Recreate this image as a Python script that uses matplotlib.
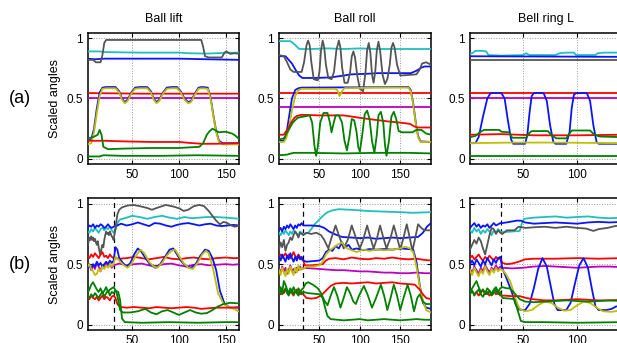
# -*- coding: utf-8 -*-

# ============================================================
#  Scaled joint angles: reference motion (a) vs. reproduction (b)
#  for three tasks (Ball lift, Ball roll, Bell ring L)
# ============================================================

import matplotlib
matplotlib.use("Agg")
import matplotlib.pyplot as plt

plt.rcParams['font.family'] = ['Liberation Sans', 'DejaVu Sans']

# ============================================================
# 1. Data  (frame, scaled angle)
# ============================================================

titles = ["Ball lift", "Ball roll", "Bell ring L"]
row_tags = ["(a)", "(b)"]
x_ranges = [(2, 165), (0, 188), (1, 141.5)]
x_ticks = [[50, 100, 150], [50, 100, 150], [50, 100]]
y_ticks = [0, 0.5, 1]
y_tick_labels = ["0", "0.5", "1"]
switch_frame = 30  # dashed line in row (b)

# ---- (a) Ball lift ----
lift_a_cyan = [(2, .89), (15, .89), (20, .885), (40, .882), (60, .88), (80, .88), (100, .88),
               (110, .875), (130, .872), (150, .878), (165, .88)]
lift_a_blue_top = [(2, .83), (10, .825), (20, .83), (60, .83), (100, .83), (130, .825), (165, .82)]
lift_a_gray = [(2, .82), (8, .82), (11, .80), (16, .80), (18, .86), (20, .96), (22, .985),
               (60, .985), (100, .985), (124, .985), (126, .93), (128, .85), (132, .84),
               (146, .84), (149, .88), (151, .89), (155, .87), (160, .875), (165, .87)]
lift_a_red_hi = [(2, .545), (60, .54), (120, .54), (165, .54)]
lift_a_magenta = [(2, .50), (165, .50)]
lift_a_blue_mid = [(2, .15), (6, .16), (9, .25), (12, .42), (15, .55), (18, .59), (22, .595),
                   (32, .595), (36, .56), (39, .50), (42, .47), (45, .49), (49, .55), (53, .59),
                   (58, .595), (66, .595), (70, .56), (73, .50), (76, .47), (79, .49), (83, .55),
                   (87, .59), (92, .595), (98, .595), (102, .56), (106, .50), (110, .47),
                   (113, .48), (117, .54), (121, .59), (125, .595), (131, .59), (134, .51),
                   (137, .36), (140, .23), (143, .15), (147, .13), (165, .13)]
lift_a_yellow = [(2, .12), (6, .13), (9, .22), (12, .38), (15, .52), (18, .58), (22, .585),
                 (32, .585), (36, .55), (39, .49), (42, .46), (45, .48), (49, .54), (53, .58),
                 (58, .585), (66, .585), (70, .55), (73, .49), (76, .46), (79, .48), (83, .54),
                 (87, .58), (92, .585), (98, .585), (102, .55), (106, .49), (110, .46),
                 (113, .47), (117, .53), (121, .58), (125, .585), (131, .58), (134, .50),
                 (137, .35), (140, .22), (143, .14), (147, .12), (165, .12)]
lift_a_red_lo = [(2, .15), (20, .15), (40, .145), (70, .14), (100, .14), (115, .13),
                 (125, .125), (140, .125), (165, .13)]
lift_a_green1 = [(2, .17), (8, .18), (13, .20), (15, .24), (17, .20), (19, .10), (24, .08),
                 (40, .085), (70, .09), (100, .09), (122, .10), (126, .13), (130, .20),
                 (133, .23), (136, .25), (143, .22), (150, .225), (157, .21), (161, .19),
                 (165, .16)]
lift_a_green2 = [(2, .02), (15, .02), (19, .03), (40, .025), (80, .025), (120, .03), (165, .025)]

# ---- (a) Ball roll ----
roll_a_cyan = [(0, .975), (14, .975), (19, .95), (25, .91), (40, .91), (60, .915), (80, .91),
               (100, .915), (120, .91), (140, .91), (160, .91), (188, .91)]
roll_a_blue_top = [(0, .85), (8, .85), (16, .79), (22, .72), (25, .69), (29, .67), (45, .67),
                   (64, .675), (80, .69), (89, .70), (110, .705), (122, .71), (163, .71),
                   (170, .73), (176, .755), (180, .765), (188, .765)]
roll_a_gray = [(0, .86), (6, .85), (10, .80), (14, .74), (18, .72), (28, .72), (31, .80),
               (34, .94), (36, .98), (38, .94), (40, .80), (43, .66), (48, .65), (50, .72),
               (52, .90), (54, .98), (56, .92), (58, .78), (61, .67), (65, .66), (68, .72),
               (71, .90), (74, .98), (76, .92), (78, .76), (81, .63), (85, .63), (88, .72),
               (90, .85), (92, .89), (94, .84), (97, .68), (100, .58), (104, .56), (107, .72),
               (109, .90), (111, .96), (113, .88), (115, .70), (117, .63), (119, .72),
               (121, .90), (123, .97), (125, .90), (128, .70), (131, .62), (134, .66),
               (137, .78), (139, .92), (141, .96), (143, .92), (146, .78), (150, .69),
               (160, .695), (170, .70), (174, .74), (177, .79), (182, .80), (188, .78)]
roll_a_red_hi = [(0, .547), (188, .547)]
roll_a_magenta = [(0, .428), (188, .428)]
roll_a_blue_mid = [(0, .15), (6, .15), (9, .20), (12, .33), (16, .50), (20, .57), (24, .585),
                   (28, .59), (160, .595), (163, .57), (166, .46), (169, .31), (172, .19),
                   (175, .145), (188, .14)]
roll_a_yellow = [(0, .14), (6, .14), (9, .17), (12, .25), (16, .40), (20, .52), (24, .57),
                 (28, .58), (69, .58), (72, .57), (75, .52), (78, .56), (81, .585), (120, .59),
                 (160, .59), (163, .56), (166, .45), (169, .30), (172, .18), (175, .14),
                 (188, .14)]
roll_a_red_lo = [(0, .20), (6, .20), (10, .24), (15, .30), (19, .34), (22, .355), (28, .365),
                 (50, .36), (80, .36), (90, .35), (100, .34), (117, .325), (135, .31),
                 (150, .30), (162, .29), (167, .27), (171, .26), (188, .26)]
roll_a_green1 = [(0, .16), (6, .17), (12, .24), (17, .30), (23, .34), (30, .35), (38, .36),
                 (41, .30), (44, .10), (46, .025), (48, .10), (51, .30), (55, .38), (60, .38),
                 (63, .30), (65, .22), (67, .28), (70, .36), (74, .36), (78, .30), (81, .15),
                 (84, .07), (87, .18), (90, .33), (93, .32), (96, .22), (98, .10), (100, .06),
                 (103, .20), (106, .37), (109, .40), (112, .33), (115, .15), (118, .05),
                 (121, .20), (123, .36), (126, .39), (129, .30), (131, .12), (133, .025),
                 (136, .15), (139, .35), (142, .39), (145, .33), (148, .23), (152, .22),
                 (165, .22), (170, .24), (176, .24), (182, .21), (188, .20)]
roll_a_green2 = [(0, .03), (10, .035), (18, .05), (40, .05), (80, .045), (120, .05),
                 (160, .05), (188, .045)]

# ---- (a) Bell ring L ----
ring_a_cyan = [(1, .87), (4, .88), (6, .895), (12, .895), (16, .89), (18, .86), (30, .855),
               (50, .86), (53, .875), (56, .86), (80, .86), (84, .875), (90, .88), (97, .88),
               (99, .86), (117, .86), (119, .875), (125, .88), (141.5, .88)]
ring_a_blue_top = [(1, .85), (141.5, .845)]
ring_a_gray = [(1, .82), (141.5, .82)]
ring_a_red_hi = [(1, .545), (141.5, .545)]
ring_a_magenta = [(1, .50), (141.5, .50)]
ring_a_blue_mid = [(1, .13), (6, .13), (9, .18), (13, .35), (17, .50), (20, .545), (30, .545),
                   (33, .50), (36, .32), (39, .16), (41, .125), (52, .125), (54, .20),
                   (56, .38), (58, .52), (60, .545), (69, .545), (72, .48), (75, .28),
                   (78, .14), (80, .125), (90, .125), (93, .22), (95, .42), (97, .53),
                   (99, .545), (109, .545), (112, .48), (115, .28), (118, .14), (120, .125),
                   (141.5, .125)]
ring_a_yellow = [(1, .13), (40, .135), (80, .135), (141.5, .13)]
ring_a_red_lo = [(1, .20), (30, .205), (60, .195), (100, .195), (141.5, .20)]
ring_a_green1 = [(1, .18), (6, .19), (10, .22), (14, .24), (28, .24), (30, .225), (37, .22),
                 (40, .175), (53, .175), (56, .215), (58, .23), (73, .23), (77, .19), (81, .17),
                 (90, .17), (93, .21), (95, .235), (112, .235), (116, .20), (121, .185),
                 (141.5, .18)]
ring_a_green2 = [(1, .02), (141.5, .02)]

# ---- (b) Ball lift ----
lift_b_cyan = [(2, .77), (4, .76), (6, .79), (8, .77), (10, .80), (12, .78), (14, .76),
               (16, .79), (18, .80), (20, .78), (22, .80), (24, .79), (26, .81), (28, .78),
               (30, .76), (32, .78), (34, .84), (37, .87), (42, .88), (50, .90), (58, .89),
               (66, .875), (74, .89), (82, .90), (90, .885), (98, .875), (106, .89),
               (114, .88), (122, .885), (130, .89), (140, .89), (150, .885), (158, .88),
               (165, .875)]
lift_b_blue_top = [(2, .80), (4, .82), (6, .81), (8, .83), (10, .80), (12, .82), (14, .81),
                   (16, .83), (18, .82), (20, .80), (22, .81), (24, .83), (26, .81), (28, .80),
                   (30, .81), (34, .82), (38, .835), (44, .82), (50, .83), (56, .845),
                   (62, .83), (68, .815), (74, .84), (80, .835), (86, .82), (92, .81),
                   (98, .825), (104, .835), (110, .84), (116, .83), (122, .82), (128, .83),
                   (134, .835), (140, .82), (146, .815), (152, .82), (158, .825), (165, .82)]
lift_b_gray = [(2, .66), (3, .68), (4, .72), (5, .70), (6, .73), (7, .70), (8, .72), (9, .69),
               (10, .71), (11, .68), (12, .66), (13, .69), (14, .64), (15, .60), (16, .58),
               (17, .63), (18, .66), (19, .64), (20, .70), (21, .74), (22, .77), (23, .75),
               (24, .76), (25, .74), (26, .77), (27, .75), (28, .73), (29, .72), (30, .70),
               (32, .80), (34, .91), (36, .95), (39, .97), (45, .985), (51, .99), (58, .98),
               (66, .965), (71, .95), (78, .97), (86, .99), (95, .975), (101, .96),
               (105, .94), (110, .95), (116, .98), (122, .99), (127, .98), (132, .94),
               (136, .90), (140, .86), (144, .83), (148, .85), (152, .84), (156, .82),
               (160, .81), (165, .82)]
lift_b_red_hi = [(2, .57), (4, .55), (6, .58), (8, .56), (10, .59), (12, .57), (14, .55),
                 (16, .58), (18, .60), (20, .56), (22, .57), (24, .55), (26, .58), (28, .56),
                 (30, .55), (36, .545), (44, .55), (52, .56), (60, .55), (68, .54), (76, .55),
                 (84, .56), (92, .545), (100, .54), (108, .55), (116, .555), (124, .545),
                 (132, .54), (140, .55), (150, .555), (158, .55), (165, .55)]
lift_b_magenta = [(2, .47), (4, .50), (6, .45), (8, .49), (10, .46), (12, .51), (14, .48),
                  (16, .44), (18, .49), (20, .47), (22, .51), (24, .48), (26, .50), (28, .47),
                  (30, .49), (36, .505), (44, .49), (52, .50), (60, .505), (68, .49),
                  (76, .485), (84, .50), (92, .505), (100, .49), (108, .48), (116, .495),
                  (124, .50), (132, .49), (140, .495), (150, .50), (158, .495), (165, .50)]
lift_b_blue_mid = [(2, .46), (4, .49), (6, .47), (8, .50), (10, .48), (12, .52), (14, .49),
                   (16, .51), (18, .48), (20, .50), (22, .52), (24, .50), (26, .53), (28, .51),
                   (30, .53), (32, .64), (34, .62), (36, .55), (40, .51), (44, .48), (48, .51),
                   (52, .58), (56, .63), (60, .60), (65, .54), (70, .49), (75, .47), (80, .50),
                   (85, .56), (90, .62), (94, .63), (98, .58), (103, .52), (108, .48),
                   (113, .47), (118, .50), (123, .57), (128, .62), (132, .61), (136, .55),
                   (140, .45), (144, .28), (149, .17), (155, .14), (165, .14)]
lift_b_yellow = [(2, .48), (4, .50), (6, .46), (8, .44), (10, .41), (12, .42), (14, .46),
                 (16, .44), (18, .48), (20, .46), (22, .49), (24, .47), (26, .50), (28, .48),
                 (30, .50), (32, .56), (34, .55), (37, .52), (41, .49), (45, .47), (49, .50),
                 (54, .57), (59, .62), (63, .59), (68, .52), (73, .48), (77, .47), (82, .51),
                 (87, .57), (92, .61), (96, .62), (100, .57), (105, .51), (110, .47),
                 (115, .46), (120, .51), (125, .58), (129, .61), (132, .59), (137, .45),
                 (142, .26), (148, .17), (155, .14), (159, .13), (165, .105)]
lift_b_red_lo = [(2, .23), (4, .21), (6, .24), (8, .22), (10, .21), (12, .23), (14, .20),
                 (16, .22), (18, .24), (20, .21), (22, .23), (24, .22), (26, .20), (28, .23),
                 (30, .24), (32, .22), (34, .17), (37, .145), (44, .14), (52, .145), (60, .14),
                 (68, .135), (76, .145), (84, .14), (92, .135), (100, .14), (108, .145),
                 (116, .14), (124, .13), (132, .135), (140, .14), (150, .14), (158, .14),
                 (165, .145)]
lift_b_green1 = [(2, .26), (4, .29), (6, .33), (8, .35), (10, .32), (12, .29), (14, .27),
                 (16, .30), (18, .26), (20, .28), (22, .31), (24, .27), (26, .29), (28, .30),
                 (30, .31), (33, .27), (35, .20), (37, .12), (40, .10), (48, .10), (56, .11),
                 (64, .13), (70, .10), (76, .085), (82, .11), (88, .12), (94, .10), (100, .08),
                 (106, .10), (112, .12), (118, .10), (124, .09), (130, .095), (136, .12),
                 (142, .15), (148, .17), (155, .18), (165, .175)]
lift_b_green2 = [(2, .24), (4, .22), (6, .25), (8, .23), (10, .26), (12, .24), (14, .22),
                 (16, .25), (18, .27), (20, .23), (22, .26), (24, .28), (26, .24), (28, .27),
                 (30, .26), (32, .28), (35, .27), (37, .20), (39, .05), (42, .02), (60, .015),
                 (90, .02), (120, .015), (150, .02), (165, .02)]

# ---- (b) Ball roll ----
roll_b_cyan = [(0, .76), (2, .74), (4, .77), (6, .75), (8, .78), (10, .76), (12, .74),
               (14, .77), (16, .75), (18, .78), (20, .77), (22, .75), (24, .74), (26, .77),
               (28, .76), (30, .75), (36, .76), (40, .79), (44, .83), (50, .87), (56, .91),
               (60, .93), (66, .945), (74, .955), (88, .95), (100, .945), (110, .94),
               (130, .935), (150, .93), (165, .925), (188, .93)]
roll_b_blue_top = [(0, .78), (2, .80), (4, .77), (6, .81), (8, .79), (10, .82), (12, .80),
                   (14, .83), (16, .81), (18, .79), (20, .82), (22, .80), (24, .83), (26, .82),
                   (28, .84), (30, .82), (40, .82), (50, .815), (56, .80), (62, .77),
                   (70, .745), (78, .725), (90, .72), (100, .715), (110, .72), (120, .71),
                   (130, .715), (140, .72), (150, .715), (160, .72), (172, .725), (178, .76),
                   (183, .81), (188, .84)]
roll_b_gray = [(0, .62), (2, .68), (4, .64), (6, .70), (8, .61), (10, .66), (12, .68),
               (14, .72), (16, .70), (18, .74), (20, .77), (22, .75), (24, .72), (26, .76),
               (28, .75), (30, .74), (34, .76), (40, .75), (46, .76), (52, .74), (56, .70),
               (61, .63), (65, .72), (70, .82), (75, .72), (80, .63), (85, .70), (90, .82),
               (95, .72), (100, .63), (104, .70), (109, .82), (113, .72), (117, .63),
               (121, .71), (125, .82), (129, .72), (133, .63), (138, .72), (142, .82),
               (146, .72), (150, .62), (154, .72), (158, .83), (161, .74), (165, .61),
               (168, .70), (172, .83), (176, .80), (180, .78), (188, .78)]
roll_b_red_hi = [(0, .56), (2, .58), (4, .55), (6, .57), (8, .59), (10, .56), (12, .58),
                 (14, .55), (16, .57), (18, .60), (20, .57), (22, .55), (24, .58), (26, .56),
                 (28, .54), (30, .53), (32, .49), (40, .49), (48, .495), (54, .50), (58, .53),
                 (62, .545), (70, .55), (80, .54), (90, .555), (100, .545), (110, .54),
                 (120, .55), (130, .545), (140, .555), (150, .545), (160, .54), (170, .545),
                 (180, .535), (188, .53)]
roll_b_magenta = [(0, .46), (2, .43), (4, .48), (6, .44), (8, .47), (10, .42), (12, .45),
                  (14, .49), (16, .44), (18, .46), (20, .43), (22, .47), (24, .45), (26, .48),
                  (28, .46), (30, .47), (40, .465), (50, .46), (60, .455), (70, .45),
                  (80, .45), (90, .445), (100, .44), (110, .44), (120, .435), (130, .43),
                  (140, .43), (150, .425), (160, .425), (170, .43), (180, .425), (188, .425)]
roll_b_blue_mid = [(0, .56), (2, .53), (4, .58), (6, .55), (8, .52), (10, .57), (12, .54),
                   (14, .59), (16, .55), (18, .52), (20, .56), (22, .53), (24, .57), (26, .54),
                   (28, .56), (30, .53), (34, .52), (42, .525), (50, .53), (54, .55),
                   (58, .60), (62, .62), (66, .61), (70, .65), (74, .63), (78, .68), (82, .64),
                   (86, .66), (90, .62), (96, .63), (104, .615), (112, .625), (120, .62),
                   (130, .625), (140, .62), (150, .63), (160, .625), (166, .62), (170, .52),
                   (174, .33), (178, .18), (182, .14), (188, .13)]
roll_b_yellow = [(0, .45), (2, .41), (4, .47), (6, .43), (8, .40), (10, .46), (12, .42),
                 (14, .48), (16, .44), (18, .41), (20, .47), (22, .43), (24, .49), (26, .45),
                 (28, .47), (30, .46), (34, .48), (42, .48), (50, .49), (54, .52), (58, .58),
                 (62, .61), (66, .63), (72, .66), (78, .68), (82, .64), (88, .62), (96, .60),
                 (104, .62), (112, .61), (120, .62), (130, .615), (140, .62), (150, .63),
                 (156, .645), (162, .63), (166, .60), (170, .48), (174, .32), (178, .20),
                 (182, .12), (188, .10)]
roll_b_red_lo = [(0, .27), (2, .25), (4, .28), (6, .26), (8, .29), (10, .27), (12, .25),
                 (14, .28), (16, .26), (18, .24), (20, .27), (22, .29), (24, .26), (26, .25),
                 (28, .27), (30, .25), (34, .22), (40, .215), (46, .22), (52, .24), (58, .28),
                 (64, .32), (70, .34), (80, .345), (90, .34), (100, .345), (110, .35),
                 (120, .34), (130, .345), (140, .35), (150, .34), (160, .335), (168, .33),
                 (174, .29), (178, .25), (182, .22), (188, .21)]
roll_b_green1 = [(0, .28), (2, .31), (4, .27), (6, .36), (8, .33), (10, .29), (12, .26),
                 (14, .30), (16, .27), (18, .31), (20, .28), (22, .26), (24, .30), (26, .27),
                 (28, .29), (30, .30), (33, .34), (36, .35), (42, .33), (48, .30), (52, .26),
                 (56, .20), (60, .16), (64, .24), (68, .31), (72, .24), (76, .14), (80, .22),
                 (84, .31), (88, .26), (92, .19), (95, .17), (99, .24), (105, .32), (110, .24),
                 (115, .14), (120, .22), (126, .33), (130, .24), (134, .12), (138, .22),
                 (142, .33), (146, .24), (150, .12), (154, .22), (159, .33), (163, .24),
                 (167, .11), (171, .22), (174, .25), (178, .19), (182, .17), (188, .17)]
roll_b_green2 = [(0, .26), (2, .29), (4, .25), (6, .28), (8, .30), (10, .26), (12, .24),
                 (14, .27), (16, .29), (18, .25), (20, .28), (22, .26), (24, .24), (26, .27),
                 (28, .25), (30, .27), (36, .26), (44, .255), (50, .25), (54, .22), (57, .14),
                 (60, .07), (64, .045), (72, .04), (80, .035), (90, .04), (100, .045),
                 (110, .035), (120, .04), (130, .045), (140, .04), (150, .035), (160, .04),
                 (170, .045), (180, .04), (188, .04)]

# ---- (b) Bell ring L ----
ring_b_cyan = [(1, .78), (3, .76), (5, .80), (7, .77), (9, .79), (11, .75), (13, .78),
               (15, .76), (17, .79), (19, .77), (21, .74), (23, .78), (25, .76), (27, .79),
               (29, .77), (31, .765), (40, .77), (47, .775), (49, .84), (51, .875), (60, .885),
               (70, .89), (80, .895), (90, .885), (100, .89), (110, .895), (120, .885),
               (130, .88), (141.5, .885)]
ring_b_blue_top = [(1, .80), (3, .82), (5, .84), (7, .81), (9, .83), (11, .80), (13, .82),
                   (15, .81), (17, .83), (19, .80), (21, .82), (23, .84), (25, .82), (27, .83),
                   (29, .84), (31, .84), (38, .85), (44, .86), (48, .86), (52, .845),
                   (60, .835), (70, .84), (80, .845), (90, .84), (100, .835), (110, .845),
                   (120, .85), (130, .845), (141.5, .85)]
ring_b_gray = [(1, .62), (3, .66), (5, .70), (7, .67), (9, .72), (11, .69), (13, .63),
               (15, .58), (17, .66), (19, .74), (21, .80), (23, .79), (25, .75), (27, .78),
               (29, .76), (31, .75), (35, .78), (42, .78), (46, .81), (52, .80), (60, .805),
               (70, .81), (80, .80), (90, .81), (100, .80), (108, .795), (115, .775),
               (120, .79), (128, .80), (135, .815), (141.5, .82)]
ring_b_red_hi = [(1, .55), (3, .57), (5, .54), (7, .56), (9, .58), (11, .55), (13, .53),
                 (15, .56), (17, .54), (19, .57), (21, .55), (23, .53), (25, .56), (27, .54),
                 (29, .55), (31, .51), (35, .50), (40, .505), (46, .52), (52, .54), (60, .545),
                 (80, .545), (100, .55), (120, .545), (141.5, .55)]
ring_b_magenta = [(1, .46), (3, .43), (5, .48), (7, .45), (9, .42), (11, .47), (13, .44),
                  (15, .49), (17, .46), (19, .43), (21, .47), (23, .45), (25, .49), (27, .46),
                  (29, .48), (31, .47), (40, .465), (50, .47), (60, .48), (70, .485), (80, .48),
                  (90, .475), (100, .47), (110, .475), (120, .48), (130, .48), (141.5, .475)]
ring_b_blue_mid = [(1, .50), (3, .53), (5, .49), (7, .54), (9, .51), (11, .48), (13, .53),
                   (15, .50), (17, .55), (19, .52), (21, .49), (23, .54), (25, .51), (27, .55),
                   (29, .56), (31, .46), (34, .40), (37, .33), (40, .26), (43, .17), (46, .125),
                   (52, .12), (56, .17), (60, .30), (64, .46), (68, .55), (72, .48), (76, .30),
                   (79, .17), (82, .12), (90, .12), (94, .18), (98, .34), (102, .49), (106, .55),
                   (110, .47), (114, .28), (117, .15), (120, .12), (127, .12), (132, .13),
                   (136, .15), (141.5, .15)]
ring_b_yellow = [(1, .45), (3, .41), (5, .47), (7, .43), (9, .40), (11, .45), (13, .42),
                 (15, .48), (17, .44), (19, .41), (21, .46), (23, .43), (25, .47), (27, .44),
                 (29, .46), (31, .45), (34, .42), (38, .36), (41, .28), (44, .19), (47, .13),
                 (52, .11), (58, .12), (64, .16), (70, .19), (76, .18), (82, .14), (88, .115),
                 (94, .12), (100, .16), (106, .19), (112, .18), (118, .14), (124, .11),
                 (132, .105), (141.5, .12)]
ring_b_red_lo = [(1, .26), (3, .28), (5, .25), (7, .27), (9, .24), (11, .26), (13, .29),
                 (15, .25), (17, .27), (19, .24), (21, .26), (23, .28), (25, .25), (27, .27),
                 (29, .24), (31, .24), (40, .235), (47, .235), (53, .22), (59, .21), (70, .20),
                 (80, .20), (90, .205), (100, .21), (110, .205), (120, .20), (130, .20),
                 (141.5, .205)]
ring_b_green1 = [(1, .27), (3, .30), (5, .33), (7, .36), (9, .31), (11, .27), (13, .29),
                 (15, .26), (17, .30), (19, .28), (21, .25), (23, .29), (25, .31), (27, .27),
                 (29, .30), (31, .31), (35, .30), (38, .30), (43, .25), (47, .21), (52, .19),
                 (60, .185), (70, .19), (80, .195), (90, .20), (100, .195), (110, .19),
                 (120, .195), (130, .20), (141.5, .195)]
ring_b_green2 = [(1, .25), (3, .28), (5, .24), (7, .27), (9, .29), (11, .25), (13, .23),
                 (15, .27), (17, .25), (19, .28), (21, .24), (23, .26), (25, .29), (27, .25),
                 (29, .27), (31, .22), (38, .215), (42, .21), (45, .12), (48, .03), (52, .02),
                 (70, .02), (100, .015), (141.5, .02)]

# ============================================================
# 2. Style
# ============================================================

c_cyan = '#1fbfbf'
c_blue = '#0a14ff'
c_gray = '#555555'
c_red = '#ff0000'
c_magenta = '#bf00bf'
c_yellow = '#bfbf00'
c_green = '#008000'

# order of every series list below
line_colors = [c_cyan, c_blue, c_gray, c_red, c_magenta,
               c_blue, c_yellow, c_red, c_green, c_green]

panels = [
    [
        [lift_a_cyan, lift_a_blue_top, lift_a_gray, lift_a_red_hi, lift_a_magenta,
         lift_a_blue_mid, lift_a_yellow, lift_a_red_lo, lift_a_green1, lift_a_green2],
        [roll_a_cyan, roll_a_blue_top, roll_a_gray, roll_a_red_hi, roll_a_magenta,
         roll_a_blue_mid, roll_a_yellow, roll_a_red_lo, roll_a_green1, roll_a_green2],
        [ring_a_cyan, ring_a_blue_top, ring_a_gray, ring_a_red_hi, ring_a_magenta,
         ring_a_blue_mid, ring_a_yellow, ring_a_red_lo, ring_a_green1, ring_a_green2],
    ],
    [
        [lift_b_cyan, lift_b_blue_top, lift_b_gray, lift_b_red_hi, lift_b_magenta,
         lift_b_blue_mid, lift_b_yellow, lift_b_red_lo, lift_b_green1, lift_b_green2],
        [roll_b_cyan, roll_b_blue_top, roll_b_gray, roll_b_red_hi, roll_b_magenta,
         roll_b_blue_mid, roll_b_yellow, roll_b_red_lo, roll_b_green1, roll_b_green2],
        [ring_b_cyan, ring_b_blue_top, ring_b_gray, ring_b_red_hi, ring_b_magenta,
         ring_b_blue_mid, ring_b_yellow, ring_b_red_lo, ring_b_green1, ring_b_green2],
    ],
]

# ============================================================
# 3. Figure (pixel layout of the 617x343 original)
# ============================================================

W, H = 617, 343
col_left = [87.5, 279, 470]
col_width = 152
row_top = [32.7, 198.3]
row_bottom = [164.3, 330]

fig = plt.figure(figsize=(W / 100, H / 100), dpi=100)

for r in range(2):
    for c in range(3):
        ax = fig.add_axes([col_left[c] / W, 1 - row_bottom[r] / H,
                           col_width / W, (row_bottom[r] - row_top[r]) / H])
        for pts, col in zip(panels[r][c], line_colors):
            xs, ys = zip(*pts)
            ax.plot(xs, ys, color=col, lw=1.3, solid_joinstyle='round', zorder=3)
        if r == 1:
            ax.axvline(switch_frame, color='black', ls='--', lw=0.9, dashes=(4, 3), zorder=2)
        ax.set_xlim(*x_ranges[c])
        ax.set_ylim(-0.045, 1.045)
        ax.set_xticks(x_ticks[c])
        ax.set_yticks(y_ticks)
        ax.set_yticklabels(y_tick_labels)
        ax.grid(True, ls=':', color='#9a9a9a', lw=0.7)
        ax.set_axisbelow(True)
        ax.tick_params(direction='in', length=3, top=True, right=True,
                       labelsize=8.5, pad=3.5, width=0.8)
        for sp in ax.spines.values():
            sp.set_linewidth(1.1)
            sp.set_color('black')
        if r == 0:
            ax.set_title(titles[c], fontsize=9, pad=7.5)

    # row tag and y label
    yc = 1 - (row_top[r] + row_bottom[r]) / 2 / H
    fig.text(20 / W, yc, row_tags[r], fontsize=13, ha='center', va='center')
    fig.text(55 / W, yc, "Scaled angles", fontsize=9, rotation=90,
             ha='center', va='center')

fig.savefig("out.png", dpi=100)
